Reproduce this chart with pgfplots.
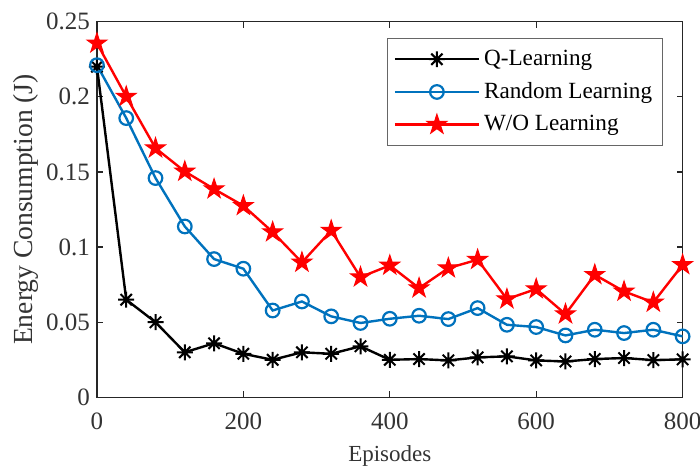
\documentclass[border=0pt]{standalone}
\usepackage{fontspec}
\setmainfont{Liberation Serif}
\usepackage{pgfplots}
\pgfplotsset{compat=1.18}
\usetikzlibrary{plotmarks}
\definecolor{mblue}{RGB}{0,114,189}
\pgfdeclareplotmark{mstar}{%
  \pgfpathmoveto{\pgfqpoint{0pt}{\pgfplotmarksize}}\pgfpathlineto{\pgfqpoint{0pt}{-\pgfplotmarksize}}%
  \pgfpathmoveto{\pgfqpoint{\pgfplotmarksize}{0pt}}\pgfpathlineto{\pgfqpoint{-\pgfplotmarksize}{0pt}}%
  \pgfpathmoveto{\pgfqpoint{0.7071\pgfplotmarksize}{0.7071\pgfplotmarksize}}\pgfpathlineto{\pgfqpoint{-0.7071\pgfplotmarksize}{-0.7071\pgfplotmarksize}}%
  \pgfpathmoveto{\pgfqpoint{0.7071\pgfplotmarksize}{-0.7071\pgfplotmarksize}}\pgfpathlineto{\pgfqpoint{-0.7071\pgfplotmarksize}{0.7071\pgfplotmarksize}}%
  \pgfusepathqstroke}
\pgfdeclareplotmark{pentagram}{%
  \pgfpathmoveto{\pgfqpointpolar{90}{\pgfplotmarksize}}%
  \pgfpathlineto{\pgfqpointpolar{126}{0.382\pgfplotmarksize}}%
  \pgfpathlineto{\pgfqpointpolar{162}{\pgfplotmarksize}}%
  \pgfpathlineto{\pgfqpointpolar{198}{0.382\pgfplotmarksize}}%
  \pgfpathlineto{\pgfqpointpolar{234}{\pgfplotmarksize}}%
  \pgfpathlineto{\pgfqpointpolar{270}{0.382\pgfplotmarksize}}%
  \pgfpathlineto{\pgfqpointpolar{306}{\pgfplotmarksize}}%
  \pgfpathlineto{\pgfqpointpolar{342}{0.382\pgfplotmarksize}}%
  \pgfpathlineto{\pgfqpointpolar{18}{\pgfplotmarksize}}%
  \pgfpathlineto{\pgfqpointpolar{54}{0.382\pgfplotmarksize}}%
  \pgfpathclose
  \pgfusepathqfillstroke}
\begin{document}
\begin{tikzpicture}
\begin{axis}[
  scale only axis, width=293pt, height=188pt,
  xmin=0, xmax=800, ymin=0, ymax=0.25,
  xtick={0,200,400,600,800},
  ytick={0,0.05,0.1,0.15,0.2,0.25},
  scaled y ticks=false,
  yticklabel style={/pgf/number format/fixed, /pgf/number format/precision=2},
  xticklabel style={yshift=-4pt},
  /pgf/number format/assume math mode=true,
  tick align=inside, tick pos=both,
  major tick length=3pt,
  axis line style={line width=0.8pt, black!85},
  tick style={line width=0.6pt, black!85},
  ticklabel style={font=\fontsize{12.5}{14}\selectfont, text=black!80},
  xlabel={Episodes}, ylabel={Energy Consumption (J)},
  xlabel style={font=\fontsize{11.5}{13}\selectfont, text=black!80, yshift=-1.5pt},
  ylabel style={font=\fontsize{13.8}{15}\selectfont, text=black!80, yshift=-3pt},
  legend style={at={(1,1)}, anchor=north east, xshift=-10pt, yshift=-8pt,
    draw=black!60, line width=0.5pt, font=\fontsize{11.6}{13}\selectfont,
    row sep=3pt, inner xsep=3pt, inner ysep=4pt},
  legend cell align=left,
  legend image code/.code={\draw[#1] (0pt,0pt) -- (42pt,0pt); \draw[#1, only marks] plot coordinates {(21pt,0pt)};},
]
\addplot[black, line width=1.2pt, mark=mstar, mark size=4pt, mark options={line width=1pt}] coordinates {
(0,0.220)(40,0.065)(80,0.050)(120,0.030)(160,0.036)(200,0.029)(240,0.025)(280,0.030)(320,0.029)(360,0.034)
(400,0.025)(440,0.0255)(480,0.0246)(520,0.0266)(560,0.0273)(600,0.0246)(640,0.0239)(680,0.0255)(720,0.0262)(760,0.0248)(800,0.0253)};
\addlegendentry{Q-Learning}
\addplot[mblue, line width=1.2pt, mark=o, mark size=3.4pt, mark options={line width=1.1pt, fill=none}] coordinates {
(0,0.221)(40,0.1858)(80,0.1459)(120,0.1137)(160,0.092)(200,0.0856)(240,0.0578)(280,0.0638)(320,0.0539)(360,0.0495)
(400,0.0523)(440,0.0543)(480,0.0521)(520,0.0594)(560,0.0483)(600,0.0468)(640,0.0412)(680,0.045)(720,0.0428)(760,0.045)(800,0.0406)};
\addlegendentry{Random Learning}
\addplot[red, line width=1.2pt, mark=pentagram, mark size=5.2pt, mark options={fill=red, line width=0.5pt}] coordinates {
(0,0.2356)(40,0.2001)(80,0.1658)(120,0.1503)(160,0.1386)(200,0.1275)(240,0.110)(280,0.0898)(320,0.111)(360,0.080)
(400,0.0878)(440,0.0727)(480,0.086)(520,0.0916)(560,0.0654)(600,0.0721)(640,0.0554)(680,0.0816)(720,0.0705)(760,0.0632)(800,0.0882)};
\addlegendentry{W/O Learning}
\end{axis}
\pgfresetboundingbox
\path ([xshift=-48.5pt,yshift=-34.2pt]current axis.south west) rectangle ([xshift=8.7pt,yshift=10.8pt]current axis.north east);
\end{tikzpicture}
\end{document}
